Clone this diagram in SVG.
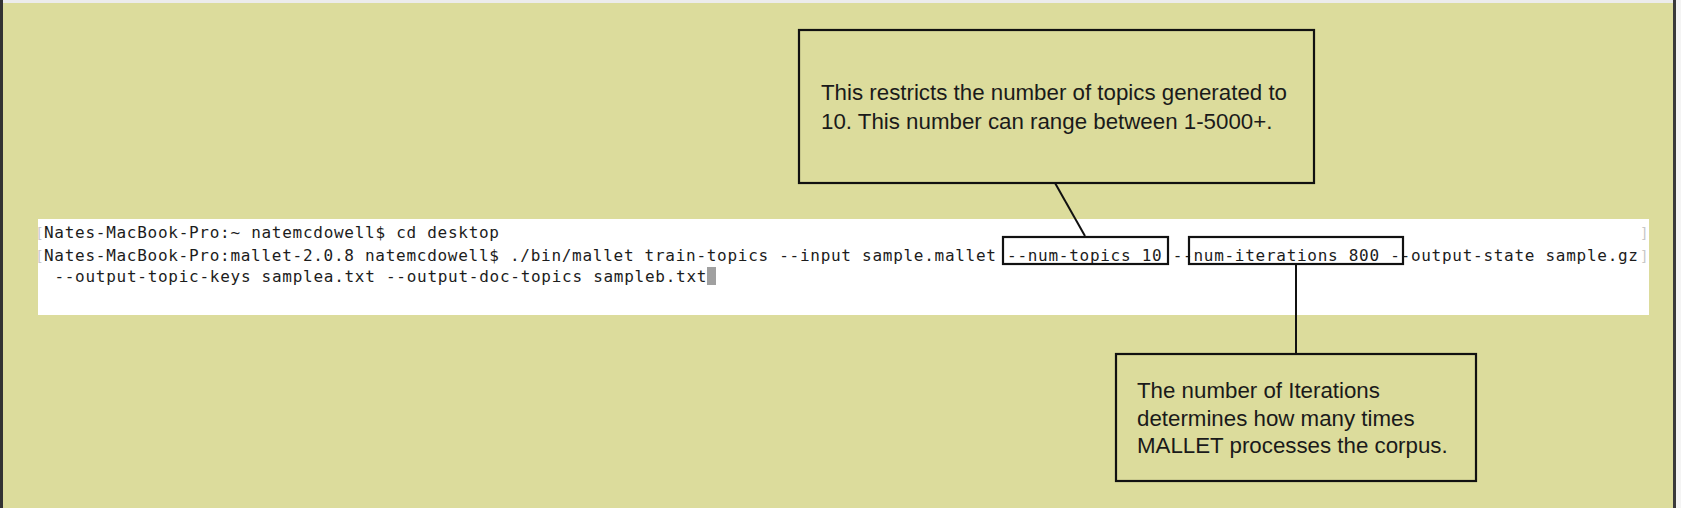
<svg xmlns="http://www.w3.org/2000/svg" width="1681" height="508" viewBox="0 0 1681 508">
  <style>
    .bg { fill: #dcdc9c; }
    .callout { fill: #dcdc9c; stroke: #111; stroke-width: 2.2; }
    .hl { fill: none; stroke: #111; stroke-width: 2.2; }
    .note { font-family: "Liberation Sans", Arial, sans-serif; font-size: 22.3px; fill: #1a1a1a; }
    .term { font-family: "DejaVu Sans Mono", "Liberation Mono", monospace; font-size: 16px; fill: #1c1c1c; }
    .mark { font-family: "DejaVu Sans Mono", "Liberation Mono", monospace; font-size: 14px; fill: #c8c8c8; }
    .conn { stroke: #111; stroke-width: 2; fill: none; }
  </style>
  <rect x="0" y="0" width="1681" height="508" class="bg"/>
  <rect x="0" y="0" width="1681" height="3" fill="#ececec"/>
  <rect x="0" y="0" width="3" height="508" fill="#333"/>
  <rect x="1673" y="0" width="3" height="508" fill="#3a3a3a"/>
  <rect x="1676" y="0" width="5" height="508" fill="#f4f4f4"/>

  <g id="terminal">
    <rect x="38" y="219" width="1611" height="96" fill="#ffffff"/>
    <text class="mark" x="35.3" y="238">[</text>
    <text class="mark" x="35.3" y="260.5">[</text>
    <text class="mark" x="1640" y="238">]</text>
    <text class="mark" x="1640" y="260.5">]</text>
    <text class="term" x="44" y="238" textLength="455" lengthAdjust="spacing">Nates-MacBook-Pro:~ natemcdowell$ cd desktop</text>
    <text class="term" x="44" y="260.5" textLength="1594" lengthAdjust="spacing">Nates-MacBook-Pro:mallet-2.0.8 natemcdowell$ ./bin/mallet train-topics --input sample.mallet --num-topics 10 --num-iterations 800 --output-state sample.gz</text>
    <text class="term" x="54.4" y="282" textLength="652" lengthAdjust="spacing">--output-topic-keys samplea.txt --output-doc-topics sampleb.txt</text>
    <rect x="707" y="267" width="9" height="18" fill="#a0a0a0"/>
  </g>

  <g id="highlight-topics">
    <rect x="1003" y="237" width="165" height="27" class="hl"/>
  </g>
  <g id="highlight-iterations">
    <rect x="1189" y="237" width="214" height="27" class="hl"/>
  </g>

  <g id="callout-topics">
    <rect x="799" y="30" width="515" height="153" class="callout"/>
    <text class="note" x="821" y="100">This restricts the number of topics generated to</text>
    <text class="note" x="821" y="128.5">10. This number can range between 1-5000+.</text>
  </g>

  <g id="callout-iterations">
    <rect x="1116" y="354" width="360" height="127" class="callout"/>
    <text class="note" x="1137" y="398">The number of Iterations</text>
    <text class="note" x="1137" y="425.5">determines how many times</text>
    <text class="note" x="1137" y="453">MALLET processes the corpus.</text>
  </g>

  <g id="connectors">
    <line x1="1055" y1="183" x2="1085" y2="236" class="conn"/>
    <line x1="1296" y1="265" x2="1296" y2="354" class="conn"/>
  </g>
</svg>
